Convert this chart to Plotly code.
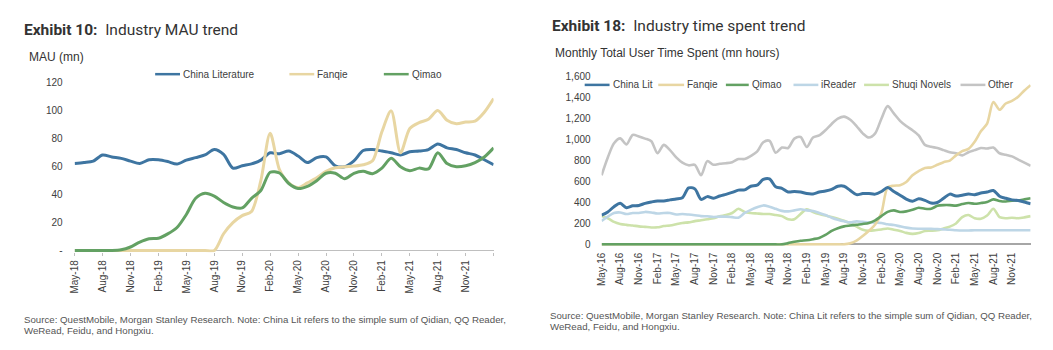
import plotly.graph_objects as go
import pandas as pd

# ---------------- data: Exhibit 10 (MAU, mn) ----------------
mau_months = pd.date_range("2018-05-01", periods=46, freq="MS").strftime("%b-%y").tolist()

china_lit_mau = [62.3, 63, 64, 68.4, 67, 66, 64, 62.3, 65, 65, 63.7, 61.9, 64.7, 66.5, 68.4, 72.3,
                 68.8, 59, 60.7, 62, 64.7, 70, 69.3, 71.2, 67.7, 63, 66.5, 67, 60.7, 60, 64.2, 71.6,
                 72.3, 71.2, 70, 68.4, 70.7, 71.2, 72.3, 76.3, 73.5, 72.3, 70, 68.4, 65, 61.5]
fanqie_mau = [0, 0, 0, 0, 0, 0, 0, 0, 0, 0, 0, 0, 0, 0, 0, 0,
              12, 20, 25, 28, 50, 84, 58, 48.4, 45, 48.4, 52, 56.7, 59.3, 60, 60.5, 61.4,
              64.2, 85, 100, 70, 87.4, 91.6, 94, 100.2, 93.3, 90.7, 92, 92.6, 99, 108.8]
qimao_mau = [0, 0, 0, 0, 0, 0.5, 2.5, 6, 8.4, 8.8, 11.9, 16.5, 25.8, 37.4, 41, 39,
             34.4, 31.2, 30.5, 37.4, 43, 56, 55.5, 48, 44.4, 46, 50, 55.3, 55.3, 51.4, 55.3, 56.7,
             55, 59, 66, 60, 57.2, 59, 58.4, 70, 62.3, 60, 60.7, 63, 67, 73.5]

mau_tick_labels = mau_months[0:45:3]
mau_yticks = [0, 20, 40, 60, 80, 100, 120]
mau_yticktext = ["-", "20", "40", "60", "80", "100", "120"]

# ---------------- data: Exhibit 18 (time spent, mn hours) ----------------
time_months = pd.date_range("2016-05-01", periods=70, freq="MS").strftime("%b-%y").tolist()

china_lit_time = [280, 310, 360, 392, 350, 368, 372, 392, 405, 415, 415, 425, 434, 446, 539, 530,
                  430, 456, 440, 462, 478, 496, 518, 520, 555, 565, 620, 625, 550, 535, 500, 505,
                  500, 485, 482, 500, 510, 525, 555, 555, 515, 475, 485, 485, 480, 505, 543, 505,
                  470, 432, 412, 435, 420, 395, 400, 440, 480, 462, 470, 480, 475, 490, 500, 515,
                  460, 440, 425, 420, 405, 388]
fanqie_time = [0] * 40 + [10, 35, 80, 130, 190, 300, 545, 560, 565, 595, 660, 700, 730, 735, 760,
                          785, 800, 850, 890, 912, 980, 1080, 1153, 1360, 1285, 1345, 1370, 1410,
                          1470, 1520]
qimao_time = [0] * 30 + [12, 25, 35, 40, 50, 62, 90, 130, 155, 172, 180, 188, 195, 205, 230, 270,
                         310, 325, 310, 315, 330, 350, 340, 340, 368, 375, 375, 370, 385, 395, 388,
                         395, 405, 430, 415, 410, 418, 420, 430, 440]
ireader_time = [225, 265, 300, 305, 290, 300, 300, 310, 305, 295, 300, 300, 285, 290, 285, 278,
                270, 268, 262, 265, 265, 260, 255, 300, 330, 355, 372, 360, 340, 320, 315, 325,
                335, 325, 318, 300, 280, 255, 235, 220, 210, 220, 215, 210, 208, 205, 192, 185,
                172, 160, 152, 150, 150, 148, 146, 143, 140, 135, 132, 133, 135, 135, 135, 135,
                135, 135, 135, 135, 135, 135]
shuqi_time = [270, 250, 215, 195, 186, 180, 172, 167, 162, 163, 175, 180, 192, 205, 210, 222,
              230, 240, 250, 268, 280, 300, 340, 310, 300, 295, 290, 290, 280, 270, 240, 240,
              290, 335, 310, 290, 275, 262, 245, 225, 200, 170, 140, 130, 135, 142, 152, 140,
              128, 110, 100, 108, 128, 130, 135, 152, 170, 200, 260, 280, 250, 245, 275, 340,
              260, 250, 255, 250, 258, 270]
other_time = [660, 830, 965, 1012, 955, 1045, 1030, 1010, 985, 870, 950, 900, 830, 780, 755, 760,
              660, 795, 760, 770, 775, 785, 815, 815, 845, 885, 975, 990, 875, 925, 920, 1010,
              1025, 930, 1020, 1040, 1090, 1150, 1200, 1220, 1190, 1130, 1060, 1020, 1060, 1200,
              1320, 1250, 1180, 1130, 1090, 1040, 950, 932, 920, 900, 880, 870, 850, 880, 900,
              920, 915, 925, 870, 855, 840, 810, 780, 750]

time_tick_labels = time_months[0:67:3]
time_yticks = [0, 200, 400, 600, 800, 1000, 1200, 1400, 1600]

# ---------------- styles ----------------
C_BLUE = "#3E75A1"
C_TAN = "#E8D6A2"
C_GREEN = "#63A163"
C_LBLUE = "#BDD6E6"
C_LGREEN = "#CDE2AA"
C_GRAY = "#C4C4C4"
TXT = "#404040"
FONT = "Liberation Sans, Arial, sans-serif"

W, H = 1053, 350


def px(x):
    return x / W


def py(y):
    return 1 - y / H


fig = go.Figure()

# left chart traces
for name, vals, col in [("China Literature", china_lit_mau, C_BLUE),
                        ("Fanqie", fanqie_mau, C_TAN),
                        ("Qimao", qimao_mau, C_GREEN)]:
    fig.add_trace(go.Scatter(x=mau_months, y=vals, name=name, mode="lines",
                             line=dict(color=col, width=3, shape="spline", smoothing=0.8),
                             xaxis="x", yaxis="y", showlegend=False))

# right chart traces
for name, vals, col, wd in [("Other", other_time, C_GRAY, 2.6),
                            ("Shuqi Novels", shuqi_time, C_LGREEN, 2.6),
                            ("iReader", ireader_time, C_LBLUE, 2.6),
                            ("Fanqie", fanqie_time, C_TAN, 2.6),
                            ("Qimao", qimao_time, C_GREEN, 2.6),
                            ("China Lit", china_lit_time, C_BLUE, 3)]:
    fig.add_trace(go.Scatter(x=time_months, y=vals, name=name, mode="lines",
                             line=dict(color=col, width=wd, shape="spline", smoothing=0.8),
                             xaxis="x2", yaxis="y2", showlegend=False))

tickfont = dict(family=FONT, size=10, color=TXT)

fig.update_layout(
    width=W, height=H,
    margin=dict(l=0, r=0, t=0, b=0),
    paper_bgcolor="white", plot_bgcolor="white",
    showlegend=False,
    xaxis=dict(type="category", domain=[px(69), px(490.4)], range=[0, 45], anchor="y",
               tickvals=mau_tick_labels + [mau_months[45]], ticktext=mau_tick_labels + [""],
               tickangle=-90, tickfont=tickfont, showgrid=False, showline=False,
               ticks="outside", ticklen=3, tickcolor="#BFBFBF", zeroline=False),
    yaxis=dict(domain=[py(253.7), py(80)], range=[-1.2, 120], anchor="x",
               tickvals=mau_yticks, ticktext=mau_yticktext, tickfont=tickfont,
               showgrid=False, showline=False, ticks="", ticklabelstandoff=11,
               zeroline=True, zerolinecolor="#BFBFBF", zerolinewidth=1),
    xaxis2=dict(type="category", domain=[px(599), px(1030.5)], range=[0, 69], anchor="y2",
                tickvals=time_tick_labels, ticktext=time_tick_labels,
                tickangle=-90, tickfont=tickfont, showgrid=False, showline=False,
                ticks="", ticklabelstandoff=4, zeroline=False),
    yaxis2=dict(domain=[py(247), py(73.7)], range=[-12, 1600], anchor="x2",
                tickvals=time_yticks, tickformat=",", tickfont=tickfont,
                showgrid=False, showline=False, ticks="", ticklabelstandoff=10,
                zeroline=True, zerolinecolor="#A6A6A6", zerolinewidth=2),
)

shapes = []
annotations = []


def legend_item(x0, x1, xt, y, col, label, width=2.5):
    shapes.append(dict(type="line", xref="paper", yref="paper", x0=px(x0), x1=px(x1),
                       y0=py(y), y1=py(y), line=dict(color=col, width=width)))
    annotations.append(dict(xref="paper", yref="paper", x=px(xt), y=py(y), xanchor="left",
                            yanchor="middle", showarrow=False, text=label,
                            font=dict(family=FONT, size=10, color=TXT)))


# left legend
legend_item(150, 175, 176, 71, C_BLUE, "China Literature")
legend_item(285, 310, 311, 71, C_TAN, "Fanqie")
legend_item(380, 405, 406, 71, C_GREEN, "Qimao")

# right legend
ry = 82
legend_item(582, 607, 608, ry, C_BLUE, "China Lit")
legend_item(656, 682, 683, ry, C_TAN, "Fanqie")
legend_item(724, 747, 748, ry, C_GREEN, "Qimao")
legend_item(792, 817, 818, ry, C_LBLUE, "iReader")
legend_item(863, 888, 889, ry, C_LGREEN, "Shuqi Novels")
legend_item(960, 985, 986, ry, C_GRAY, "Other")


def text(x, y, s, size, family=FONT, color=TXT):
    annotations.append(dict(xref="paper", yref="paper", x=px(x), y=py(y), xanchor="left",
                            yanchor="middle", showarrow=False, text=s,
                            font=dict(family=family, size=size, color=color)))


TFONT = "Roboto, Liberation Sans, sans-serif"
text(16, 26, "<b>Exhibit 10:</b>  Industry MAU trend", 15.5, TFONT, "#333333")
text(547, 22, "<b>Exhibit 18:</b>  Industry time spent trend", 15.5, TFONT, "#333333")
text(21, 53, "MAU (mn)", 12, FONT, "#333333")
text(550, 49, "Monthly Total User Time Spent (mn hours)", 12, FONT, "#333333")

SRC = "Source: QuestMobile, Morgan Stanley Research. Note: China Lit refers to the simple sum of Qidian, QQ Reader,"
text(16, 322.7, SRC, 9.7, FONT, "#555555")
text(16, 334.3, "WeRead, Feidu, and Hongxiu.", 9.7, FONT, "#555555")
text(545, 318.3, SRC, 9.7, FONT, "#555555")
text(545, 330, "WeRead, Feidu, and Hongxiu.", 9.7, FONT, "#555555")

fig.update_layout(shapes=shapes, annotations=annotations)

fig.write_html("out.html")
